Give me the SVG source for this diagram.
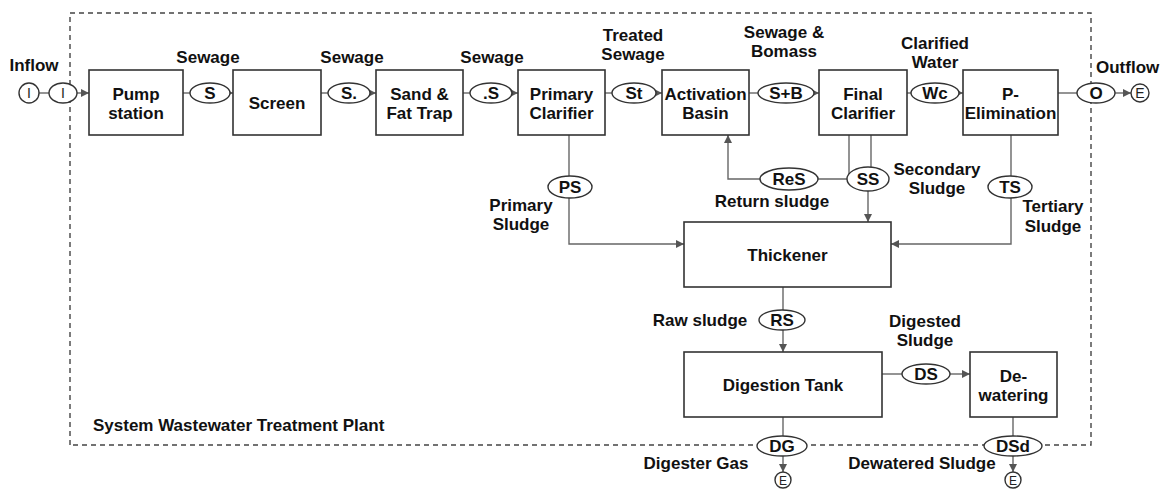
<svg xmlns="http://www.w3.org/2000/svg" width="1160" height="489" viewBox="0 0 1160 489">
<defs>
<marker id="arr" viewBox="0 0 10 10" refX="10" refY="5" markerWidth="8" markerHeight="8" markerUnits="userSpaceOnUse" orient="auto"><path d="M0,0 L10,5 L0,10 z" fill="#555"/></marker>
<style>
.box{fill:#fff;stroke:#333;stroke-width:1.6}
.ell{fill:#fff;stroke:#333;stroke-width:1.4}
.t{font-family:"Liberation Sans",Arial,sans-serif;font-size:17px;font-weight:bold;fill:#111;text-anchor:middle}
.tl{text-anchor:start}
.n{font-family:"Liberation Sans",Arial,sans-serif;font-size:14px;fill:#222;text-anchor:middle}
.c{fill:none;stroke:#666;stroke-width:1.4}
.ca{fill:none;stroke:#666;stroke-width:1.4;marker-end:url(#arr)}
.border{fill:none;stroke:#444;stroke-width:1.4;stroke-dasharray:5,4}
</style>
</defs>
<rect width="1160" height="489" fill="#fff"/>
<path class="border" d="M70,445 V13 H1091 V445 H70"/>
<text class="t tl" x="93" y="431">System Wastewater Treatment Plant</text>

<g id="connectors">
<path class="c" d="M39,93 H49"/>
<path class="ca" d="M77,93 H89"/>
<path class="c" d="M183,93 H190"/><path class="ca" d="M230,93 H233"/>
<path class="c" d="M321,93 H328"/><path class="ca" d="M370,93 H376"/>
<path class="c" d="M463,93 H470"/><path class="ca" d="M512,93 H518"/>
<path class="c" d="M605,93 H612"/><path class="ca" d="M656,93 H662"/>
<path class="c" d="M749,93 H758"/><path class="ca" d="M814,93 H819"/>
<path class="c" d="M907,93 H911"/><path class="ca" d="M959,93 H963"/>
<path class="c" d="M1058,93 H1077"/><path class="ca" d="M1115,93 H1131"/>
<path class="c" d="M569,135 V176"/><path class="ca" d="M569,198 V244 H684"/>
<path class="c" d="M849,135 V179 H818"/><path class="ca" d="M760,179 H728 V135"/>
<path class="c" d="M871,135 V167"/><path class="ca" d="M868,191 V222"/>
<path class="c" d="M1011,135 V176"/><path class="ca" d="M1011,198 V244 H891"/>
<path class="c" d="M783,287 V310"/><path class="ca" d="M783,330 V352"/>
<path class="c" d="M882,374 H902"/><path class="ca" d="M950,374 H970"/>
<path class="c" d="M783,417 V436"/><path class="ca" d="M783,456 V472"/>
<path class="c" d="M1013,417 V436"/><path class="ca" d="M1013,456 V472"/>
<g id="labels">
<text class="t" x="34" y="71">Inflow</text>
<text class="t" x="208" y="63">Sewage</text>
<text class="t" x="352" y="63">Sewage</text>
<text class="t" x="492" y="63">Sewage</text>
<text class="t" x="633" y="41">Treated</text><text class="t" x="633" y="60">Sewage</text>
<text class="t" x="784" y="38">Sewage &amp;</text><text class="t" x="784" y="57">Bomass</text>
<text class="t" x="935" y="49">Clarified</text><text class="t" x="935" y="68">Water</text>
<text class="t tl" x="1096" y="73">Outflow</text>
<text class="t" x="521" y="211">Primary</text><text class="t" x="521" y="230">Sludge</text>
<text class="t" x="772" y="207">Return sludge</text>
<text class="t" x="937" y="175">Secondary</text><text class="t" x="937" y="194">Sludge</text>
<text class="t" x="1053" y="212">Tertiary</text><text class="t" x="1053" y="232">Sludge</text>
<text class="t" x="700" y="326">Raw sludge</text>
<text class="t" x="925" y="327">Digested</text><text class="t" x="925" y="346">Sludge</text>
<text class="t" x="696" y="469">Digester Gas</text>
<text class="t" x="922" y="469">Dewatered Sludge</text>
</g>
</g>

<g id="pump"><rect class="box" x="89" y="70" width="94" height="65"/><text class="t" x="136" y="100">Pump</text><text class="t" x="136" y="119">station</text></g>
<g id="screen"><rect class="box" x="233" y="70" width="88" height="65"/><text class="t" x="277" y="109">Screen</text></g>
<g id="sand"><rect class="box" x="376" y="70" width="87" height="65"/><text class="t" x="419.5" y="100">Sand &amp;</text><text class="t" x="419.5" y="119">Fat Trap</text></g>
<g id="primary"><rect class="box" x="518" y="70" width="87" height="65"/><text class="t" x="561.5" y="100">Primary</text><text class="t" x="561.5" y="119">Clarifier</text></g>
<g id="activation"><rect class="box" x="662" y="70" width="87" height="65"/><text class="t" x="705.5" y="100">Activation</text><text class="t" x="705.5" y="119">Basin</text></g>
<g id="final"><rect class="box" x="819" y="70" width="88" height="65"/><text class="t" x="863" y="100">Final</text><text class="t" x="863" y="119">Clarifier</text></g>
<g id="pelim"><rect class="box" x="963" y="70" width="95" height="65"/><text class="t" x="1010.5" y="100">P-</text><text class="t" x="1010.5" y="119">Elimination</text></g>
<g id="thickener"><rect class="box" x="684" y="222" width="207" height="65"/><text class="t" x="787.5" y="261">Thickener</text></g>
<g id="digestion"><rect class="box" x="684" y="352" width="198" height="65"/><text class="t" x="783" y="391">Digestion Tank</text></g>
<g id="dewatering"><rect class="box" x="970" y="352" width="87" height="65"/><text class="t" x="1013.5" y="382">De-</text><text class="t" x="1013.5" y="401">watering</text></g>

<g id="e-I1"><circle class="ell" cx="29" cy="93" r="10"/><text class="n" x="29" y="98">I</text></g>
<g id="e-I2"><ellipse class="ell" cx="63" cy="93" rx="14" ry="10"/><text class="n" x="63" y="98">I</text></g>
<g id="e-S"><ellipse class="ell" cx="210" cy="93" rx="20" ry="10"/><text class="t" x="210" y="99">S</text></g>
<g id="e-S2"><ellipse class="ell" cx="349" cy="93" rx="21" ry="10"/><text class="t" x="349" y="99">S.</text></g>
<g id="e-S3"><ellipse class="ell" cx="491" cy="93" rx="21" ry="10"/><text class="t" x="491" y="99">.S</text></g>
<g id="e-St"><ellipse class="ell" cx="634" cy="93" rx="22" ry="10"/><text class="t" x="634" y="99">St</text></g>
<g id="e-SB"><ellipse class="ell" cx="786" cy="93" rx="28" ry="10"/><text class="t" x="786" y="99">S+B</text></g>
<g id="e-Wc"><ellipse class="ell" cx="935" cy="93" rx="24" ry="10"/><text class="t" x="935" y="99">Wc</text></g>
<g id="e-O"><ellipse class="ell" cx="1096" cy="93" rx="19" ry="10"/><text class="t" x="1096" y="99">O</text></g>
<g id="e-E1"><circle class="ell" cx="1140" cy="93" r="9"/><text class="n" x="1140" y="98">E</text></g>
<g id="e-PS"><ellipse class="ell" cx="570" cy="187" rx="22" ry="11"/><text class="t" x="570" y="193">PS</text></g>
<g id="e-ReS"><ellipse class="ell" cx="789" cy="179" rx="29" ry="11"/><text class="t" x="789" y="185">ReS</text></g>
<g id="e-SS"><ellipse class="ell" cx="868" cy="179" rx="21" ry="12"/><text class="t" x="868" y="185">SS</text></g>
<g id="e-TS"><ellipse class="ell" cx="1010" cy="187" rx="22" ry="11"/><text class="t" x="1010" y="193">TS</text></g>
<g id="e-RS"><ellipse class="ell" cx="782" cy="320" rx="23" ry="10"/><text class="t" x="782" y="326">RS</text></g>
<g id="e-DS"><ellipse class="ell" cx="926" cy="374" rx="24" ry="10"/><text class="t" x="926" y="380">DS</text></g>
<g id="e-DG"><ellipse class="ell" cx="782" cy="446" rx="25" ry="10"/><text class="t" x="782" y="452">DG</text></g>
<g id="e-DSd"><ellipse class="ell" cx="1013" cy="446" rx="29" ry="10"/><text class="t" x="1013" y="452">DSd</text></g>
<g id="e-E2"><circle class="ell" cx="783" cy="480" r="8"/><text class="n" x="783" y="485" style="font-size:12px">E</text></g>
<g id="e-E3"><circle class="ell" cx="1013" cy="480" r="8"/><text class="n" x="1013" y="485" style="font-size:12px">E</text></g>
</svg>
